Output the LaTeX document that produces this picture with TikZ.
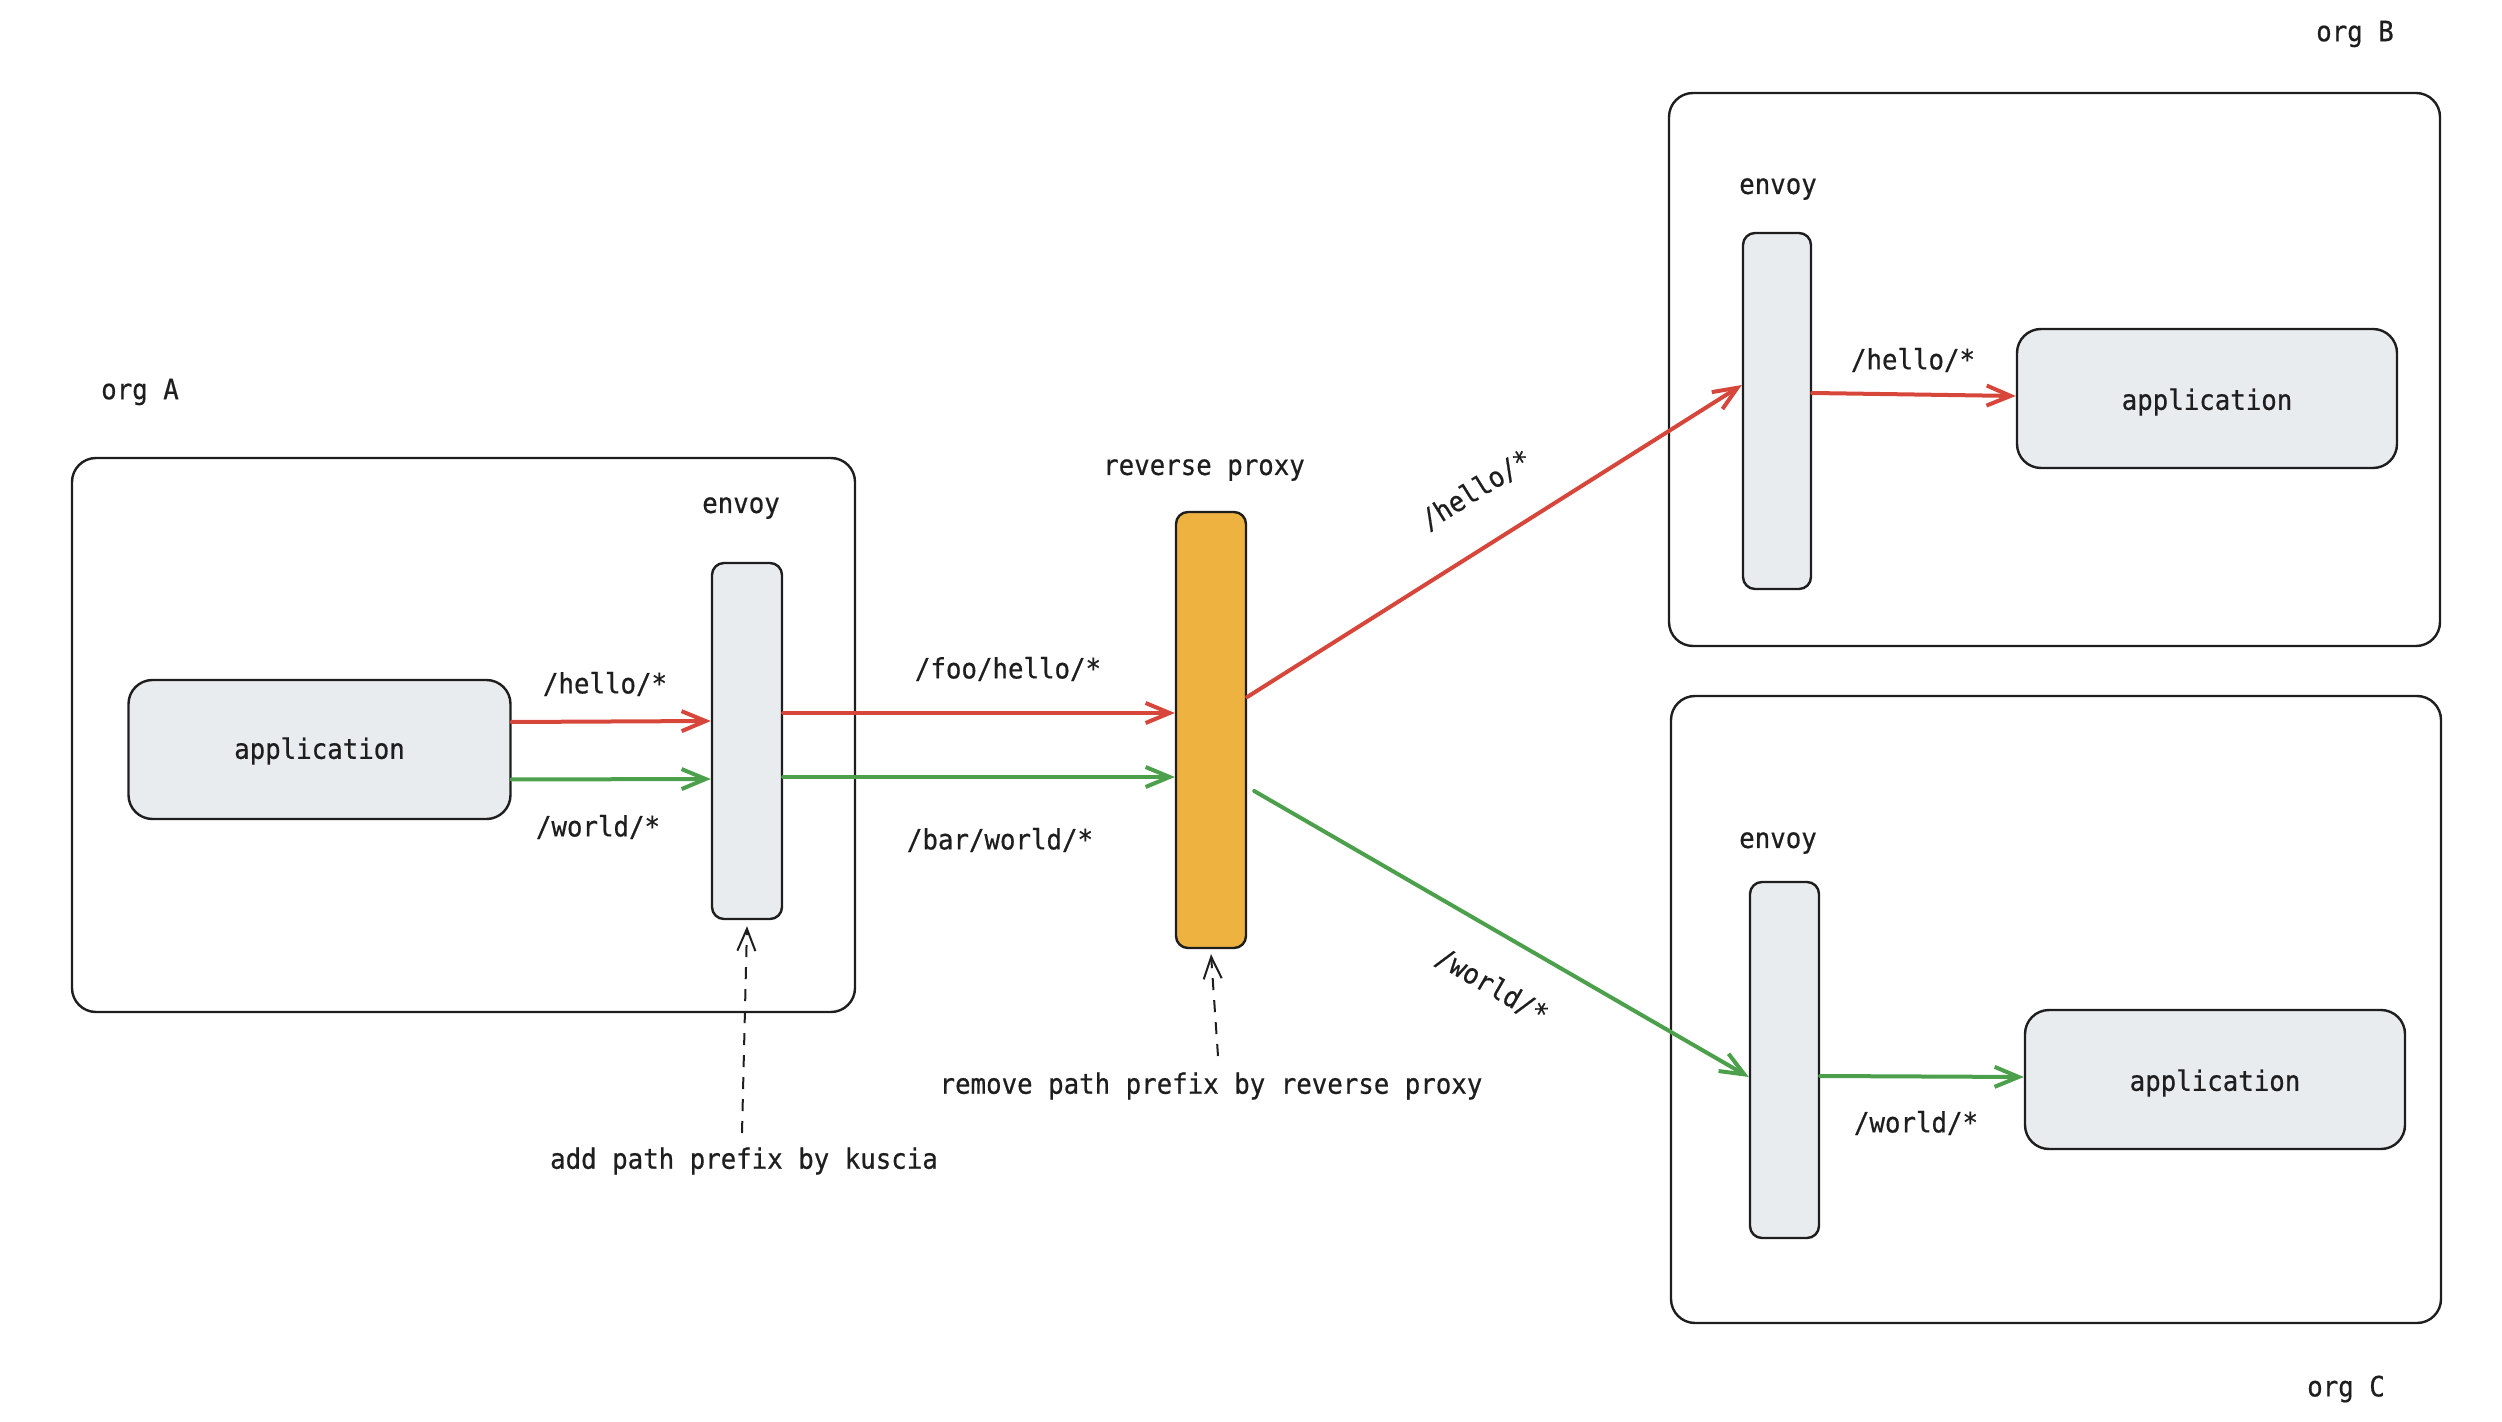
\documentclass[tikz,border=0pt]{standalone}
\usepackage{fontspec}
\setmainfont{DejaVu Sans Mono}[FakeStretch=0.92, FakeBold=0.6]
\usetikzlibrary{arrows.meta}
\definecolor{ink}{RGB}{30,30,30}
\definecolor{boxgray}{RGB}{233,236,239}
\definecolor{proxyorange}{RGB}{237,178,64}
\definecolor{routered}{RGB}{214,70,58}
\definecolor{routegreen}{RGB}{76,160,76}
\tikzset{
  orgbox/.style={draw=ink, line width=1.2pt, rounded corners=12pt, inner sep=0pt},
  appbox/.style={draw=ink, line width=1.2pt, fill=boxgray, rounded corners=12pt,
    minimum width=191pt, minimum height=69.5pt, inner sep=0pt},
  envoybox/.style={draw=ink, line width=1.2pt, fill=boxgray, rounded corners=6pt,
    minimum width=35pt, minimum height=178pt, inner sep=0pt},
  proxybox/.style={draw=ink, line width=1.2pt, fill=proxyorange, rounded corners=6pt,
    minimum width=35pt, minimum height=218pt, inner sep=0pt},
  lbl/.style={text=ink, inner sep=1pt, yshift=-2pt, font=\fontsize{14pt}{16pt}\selectfont},
  redroute/.style={draw=routered, line width=2pt, line cap=round,
    -{Straight Barb[length=12pt,width=10pt,line width=2pt]}},
  greenroute/.style={draw=routegreen, line width=2pt, line cap=round,
    -{Straight Barb[length=12pt,width=10pt,line width=2pt]}},
  note/.style={draw=ink, line width=1pt, dash pattern=on 6pt off 5pt,
    -{Straight Barb[length=11pt,width=9pt,line width=1pt]}}
}
\begin{document}
\begin{tikzpicture}[x=0.5pt, y=-0.5pt]
\useasboundingbox (0,0) rectangle (2502,1422);

% organisation frames
\node[orgbox, minimum width=391.5pt, minimum height=277pt] (orgA) at (463.5,735) {};
\node[orgbox, minimum width=385.5pt, minimum height=276.5pt] (orgB) at (2054.5,369.5) {};
\node[orgbox, minimum width=385pt, minimum height=313.5pt] (orgC) at (2056,1009.5) {};
\node[lbl] (orgAlbl) at (140,388) {org A};
\node[lbl] (orgBlbl) at (2355,30) {org B};
\node[lbl] (orgClbl) at (2346,1385) {org C};

% org A
\node[appbox] (appA) at (319.5,749.5) {};
\node[lbl] (appAtxt) at (319.5,747) {application};
\node[envoybox] (envA) at (747,741) {};
\node[lbl] (envAlbl) at (741,504) {envoy};

% reverse proxy
\node[proxybox] (proxy) at (1211,730) {};
\node[lbl] (proxylbl) at (1204,466) {reverse proxy};

% org B
\node[envoybox, minimum width=34pt] (envB) at (1777,411) {};
\node[lbl] (envBlbl) at (1778,185) {envoy};
\node[appbox, minimum width=190pt] (appB) at (2207,398.5) {};
\node[lbl] (appBtxt) at (2207,398) {application};

% org C
\node[envoybox, minimum width=34.5pt] (envC) at (1784.5,1060) {};
\node[lbl] (envClbl) at (1778,839) {envoy};
\node[appbox, minimum width=190pt] (appC) at (2215,1079.5) {};
\node[lbl] (appCtxt) at (2215,1079) {application};

% routes inside org A
\draw[redroute] ([yshift=13.75pt]appA.east) -- ([yshift=10pt]envA.west);
\draw[greenroute] ([yshift=-15pt]appA.east) -- ([yshift=-19pt]envA.west);
\node[lbl] (helloA) at (605,680) {/hello/*};
\node[lbl] (worldA) at (598,823) {/world/*};

% routes from org A envoy to the proxy
\draw[redroute] ([yshift=14pt]envA.east) -- ([yshift=8.5pt]proxy.west);
\draw[greenroute] ([yshift=-18pt]envA.east) -- ([yshift=-23.5pt]proxy.west);
\node[lbl] (fooHello) at (1008,665) {/foo/hello/*};
\node[lbl] (barWorld) at (1000,836) {/bar/world/*};

% routes from the proxy to org B and org C
\draw[redroute] ([yshift=16.5pt]proxy.east) -- ([yshift=13pt]envB.west);
\draw[greenroute] ([xshift=3.5pt,yshift=-30.5pt]proxy.east) -- ([yshift=-8.5pt]envC.west);
\node[lbl, yshift=2pt, rotate=32] (helloMid) at (1476,490) {/hello/*};
\node[lbl, yshift=2pt, rotate=-30] (worldMid) at (1492,986) {/world/*};

% routes inside org B and org C
\draw[redroute] ([yshift=9pt]envB.east) -- ([yshift=1.25pt]appB.west);
\node[lbl] (helloB) at (1913,356) {/hello/*};
\draw[greenroute] ([yshift=-8pt]envC.east) -- ([yshift=1.25pt]appC.west);
\node[lbl] (worldC) at (1916,1119) {/world/*};

% annotations
\coordinate (noteAstart) at (742,1133);
\draw[note] (noteAstart) -- ([yshift=-3pt]envA.south);
\node[lbl] (noteA) at (744,1157) {add path prefix by kuscia};
\coordinate (notePstart) at (1218,1056);
\draw[note] (notePstart) -- ([yshift=-2.5pt]proxy.south);
\node[lbl] (noteP) at (1211,1082) {remove path prefix by reverse proxy};
\end{tikzpicture}
\end{document}
